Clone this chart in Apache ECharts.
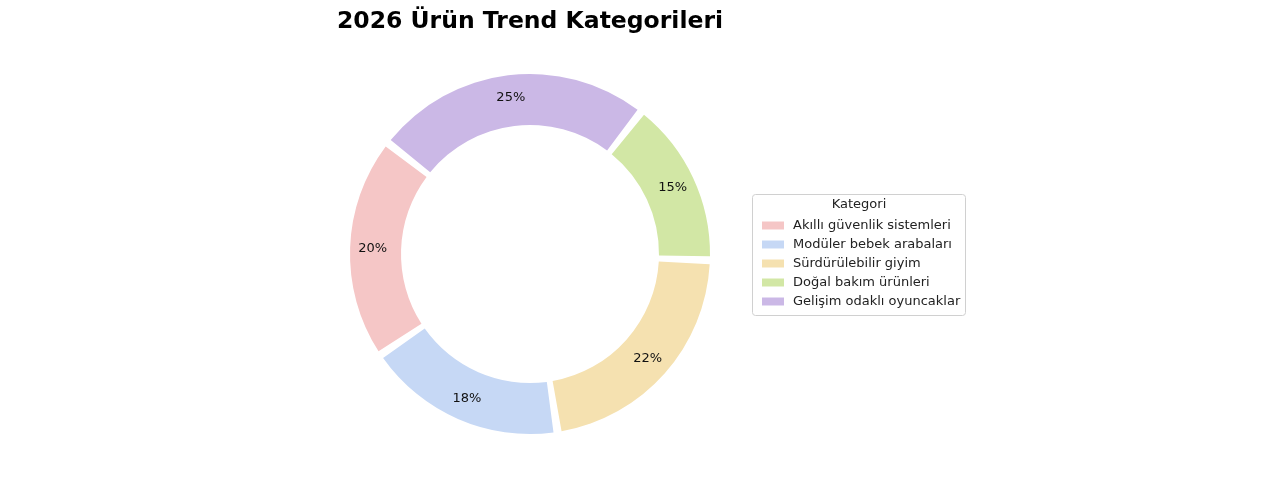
<!DOCTYPE html>
<html><head><meta charset="utf-8">
<script src="https://cdn.jsdelivr.net/npm/echarts@6/dist/echarts.min.js"></script>
<style>html,body{margin:0;padding:0;background:#fff}#c{width:1280px;height:480px}</style>
</head><body><div id="c"></div>
<script>
const categories = ["Akıllı güvenlik sistemleri","Modüler bebek arabaları","Sürdürülebilir giyim","Doğal bakım ürünleri","Gelişim odaklı oyuncaklar"];
const values = [20,18,22,15,25];
const colors = ["#f5c6c6","#c6d8f5","#f5e1b0","#d2e7a5","#cbb8e6"];
const chart = echarts.init(document.getElementById('c'));
chart.setOption({
  animation:false,
  legend:{orient:'vertical',left:757,top:214,itemWidth:22,itemHeight:8,itemGap:6,icon:'rect',
    textStyle:{fontFamily:'DejaVu Sans',fontSize:13,color:'#222',padding:[0,0,0,4]},data:categories},
  graphic:[
    {type:'text',style:{text:'2026 Ürün Trend Kategorileri',x:530,y:10,textAlign:'center',font:'bold 23.5px DejaVu Sans',fill:'#000'}},
    {type:'rect',shape:{x:752.5,y:194.5,width:213,height:121,r:3},style:{fill:'#fff',stroke:'#d0d0d0',lineWidth:1},z:-1},
    {type:'text',style:{text:'Kategori',x:859,y:198,textAlign:'center',font:'13px DejaVu Sans',fill:'#222'}}
  ],
  series:[{type:'pie',center:[530,254],radius:[129,180],startAngle:142,clockwise:false,padAngle:2.6,
    label:{position:'inside',formatter:p=>p.value+'%',fontFamily:'DejaVu Sans',fontSize:13,color:'#111'},
    labelLine:{show:false},
    data:categories.map((c,i)=>({name:c,value:values[i],itemStyle:{color:colors[i]}}))}]
});
</script></body></html>
